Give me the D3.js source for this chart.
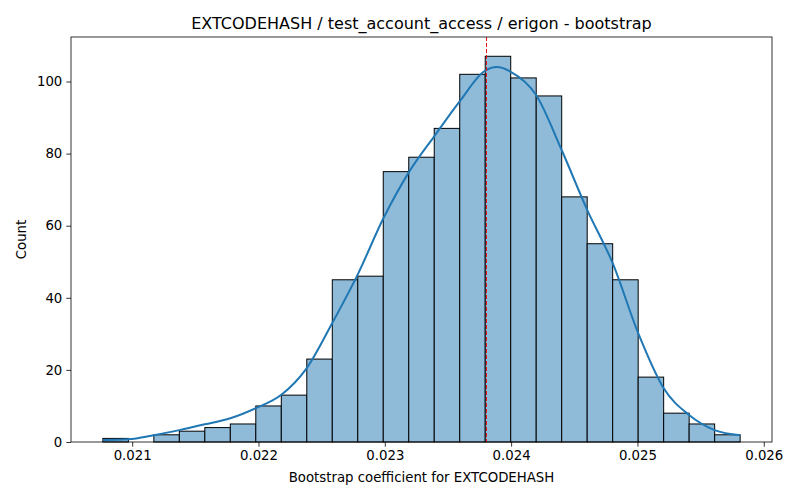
<!DOCTYPE html>
<html><head><meta charset="utf-8">
<script src="https://cdn.jsdelivr.net/npm/d3@7"></script>
<style>body{margin:0;background:#fff}svg{display:block;font-family:"DejaVu Sans",sans-serif}</style>
</head><body><svg id="c" width="800" height="500"></svg>
<script>
const binStart = 0.020768;
const binEnd = 0.025813;
const counts = [1,0,2,3,4,5,10,13,23,45,46,75,79,87,102,107,101,96,68,55,45,18,8,5,2];
const kdeX = [0.020768,0.020970,0.021172,0.021373,0.021575,0.021777,0.021979,0.022181,0.022382,0.022584,0.022786,0.022988,0.023190,0.023391,0.023593,0.023795,0.023886,0.023997,0.024199,0.024400,0.024602,0.024804,0.025006,0.025208,0.025409,0.025611,0.025813];
const kdeY = [0.55,0.75,1.9,3.3,4.9,6.6,9.4,13.1,20.5,33,46.5,62,74.8,84.8,94.5,103,104,102.7,96.2,81,64.4,49.6,30.2,14.9,7.5,3.3,1.9];
const meanLine = 0.023800;
const xTicks = [0.021,0.022,0.023,0.024,0.025,0.026];
const yTicks = [0,20,40,60,80,100];
const title = "EXTCODEHASH / test_account_access / erigon - bootstrap";
const xLabel = "Bootstrap coefficient for EXTCODEHASH";
const yLabel = "Count";

const svg = d3.select("#c");
const L=71,R=772,T=37,B=442;
const span = binEnd-binStart;
const x = d3.scaleLinear().domain([binStart-0.05*span, binEnd+0.05*span]).range([L,R]);
const ymax = d3.max(counts)*1.05;
const y = d3.scaleLinear().domain([0,ymax]).range([B,T]);
const w = span/counts.length;
const bins = counts.map((c,i)=>({x0:binStart+i*w,x1:binStart+(i+1)*w,c}));

svg.append("g").selectAll("rect").data(bins.filter(d=>d.c>0)).join("rect")
 .attr("x",d=>x(d.x0)).attr("width",d=>x(d.x1)-x(d.x0))
 .attr("y",d=>y(d.c)).attr("height",d=>y(0)-y(d.c))
 .attr("fill","#8fbbd9").attr("stroke","#000").attr("stroke-width",1);

const line = d3.line().x((d,i)=>x(kdeX[i])).y(d=>y(d)).curve(d3.curveMonotoneX);
svg.append("path").attr("d",line(kdeY)).attr("fill","none").attr("stroke","#1f77b4").attr("stroke-width",2);

const mx = Math.round(x(meanLine))+0.5;
svg.append("line").attr("x1",mx).attr("x2",mx).attr("y1",T).attr("y2",B)
 .attr("stroke","#e8121a").attr("stroke-width",1.1).attr("stroke-dasharray","4,2").attr("shape-rendering","crispEdges");

const xa = svg.append("g").attr("transform",`translate(0,${B})`)
 .call(d3.axisBottom(x).tickValues(xTicks).tickFormat(d3.format(".3f")).tickSizeOuter(0).tickSize(4.7).tickPadding(4));
const ya = svg.append("g").attr("transform",`translate(${L},0)`)
 .call(d3.axisLeft(y).tickValues(yTicks).tickSizeOuter(0).tickSize(4.7).tickPadding(4));
[xa,ya].forEach(g=>{g.select(".domain").remove();g.selectAll("text").attr("font-size","13.3px").attr("font-family","DejaVu Sans").attr("fill","#000");g.selectAll("line").attr("stroke","#000").attr("stroke-width",0.8);});

svg.append("rect").attr("x",L).attr("y",T).attr("width",R-L).attr("height",B-T).attr("fill","none").attr("stroke","#000").attr("stroke-width",0.8);

svg.append("text").attr("x",(L+R)/2).attr("y",29).attr("text-anchor","middle").attr("font-size","16px").text(title);
svg.append("text").attr("x",(L+R)/2).attr("y",482).attr("text-anchor","middle").attr("font-size","13.3px").text(xLabel);
svg.append("text").attr("transform",`translate(26,${(T+B)/2}) rotate(-90)`).attr("text-anchor","middle").attr("font-size","13.3px").text(yLabel);
</script></body></html>
